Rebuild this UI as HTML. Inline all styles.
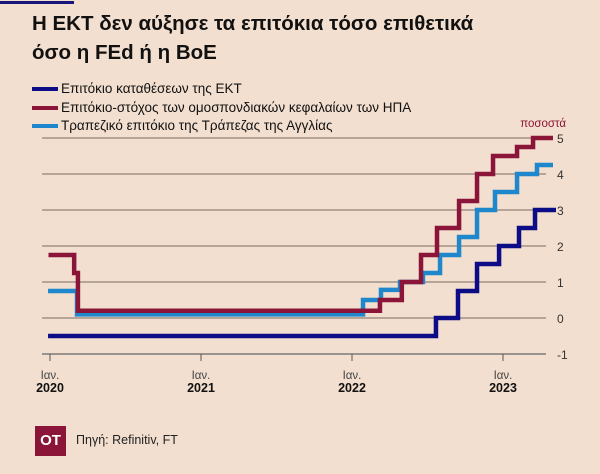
<!DOCTYPE html>
<html><head><meta charset="utf-8"><style>
body{margin:0;width:600px;height:474px;background:#f3dfcf;overflow:hidden;font-family:"Liberation Sans","DejaVu Sans",sans-serif;position:relative}
.t{position:absolute;left:32px;top:9px;font-size:20.5px;font-weight:bold;color:#111;line-height:29px}
.lg{position:absolute;left:32px;font-size:13.5px;color:#111;height:16px;line-height:16px}
.lg span{display:inline-block;width:26px;height:4px;vertical-align:middle;margin-right:3px}
</style></head><body>
<div style="position:absolute;left:0;top:1px;width:74px;height:3px;background:#16167a"></div>
<div class="t">Η ΕΚΤ δεν αύξησε τα επιτόκια τόσο επιθετικά<br>όσο η FEd ή η BoE</div>
<div class="lg" style="top:81px"><span style="background:#0c0c86"></span>Επιτόκιο καταθέσεων της ΕΚΤ</div>
<div class="lg" style="top:100px"><span style="background:#8b1538"></span>Επιτόκιο-στόχος των ομοσπονδιακών κεφαλαίων των ΗΠΑ</div>
<div class="lg" style="top:118px"><span style="background:#1f87cc"></span>Τραπεζικό επιτόκιο της Τράπεζας της Αγγλίας</div>
<svg id="c" width="600" height="474" style="position:absolute;left:0;top:0"></svg>
<div style="position:absolute;left:35px;top:426px;width:31px;height:30px;background:#8b1538;color:#fff;font-weight:bold;font-size:15px;line-height:30px;text-align:center">OT</div>
<div style="position:absolute;left:76px;top:433px;font-size:12.5px;color:#222">Πηγή: Refinitiv, FT</div>
<script>
const yTicks=[-1,0,1,2,3,4,5];
const xYears=[2020,2021,2022,2023];
const ecbT=[2019.987,2022.556,2022.702,2022.828,2022.974,2023.106,2023.212,2023.351];
const ecbV=[-0.5,0,0.75,1.5,2.0,2.5,3.0,3.0];
const fedT=[2019.99,2020.16,2020.185,2022.185,2022.33,2022.457,2022.563,2022.709,2022.828,2022.934,2023.093,2023.199,2023.331];
const fedV=[1.75,1.25,0.2,0.5,1.0,1.75,2.5,3.25,4.0,4.5,4.75,5.0,5.0];
const boeT=[2019.987,2020.179,2021.94,2022.073,2022.192,2022.318,2022.47,2022.583,2022.709,2022.828,2022.947,2023.093,2023.225,2023.331];
const boeV=[0.75,0.1,0.1,0.5,0.78,1.0,1.25,1.75,2.25,3.0,3.5,4.0,4.25,4.25];
const X=t=>50+151*(t-2020), Y=v=>318-36*v;
const svg=document.getElementById('c'),NS='http://www.w3.org/2000/svg';
function mk(tag,a,txt){const e=document.createElementNS(NS,tag);for(const k in a)e.setAttribute(k,a[k]);if(txt!=null)e.textContent=txt;svg.appendChild(e);return e;}
yTicks.forEach(v=>{
 const l=mk('line',{x1:42,x2:546,y1:Y(v),y2:Y(v),stroke:v==-1?'#666':'#7a6a60','stroke-width':v==-1?1.3:1});
 
 
 const t=mk('text',{x:557,y:Y(v)+5,'font-size':12,fill:'#333','text-anchor':'start'},String(v));
 
 
});
const pt=mk('text',{x:566,y:127,'font-size':11.5,fill:'#8b1538','text-anchor':'end'},'ποσοστά');


xYears.forEach(yr=>{
 const x=X(yr);
 const tk=mk('line',{x1:x,x2:x,y1:354,y2:361,stroke:'#555','stroke-width':1});
 
 
 const a=mk('text',{x:x,y:379,'font-size':11.5,fill:'#444','text-anchor':'middle'},'Ιαν.');
 
 
 const b=mk('text',{x:x,y:392,'font-size':12.5,'font-weight':'bold',fill:'#111','text-anchor':'middle'},String(yr));
 
 
});
function step(T,V,col,name){
 let d='M'+X(T[0])+','+Y(V[0]);
 for(let i=1;i<T.length;i++){d+=' H'+X(T[i])+' V'+Y(V[i]);}
 const p=mk('path',{d:d,fill:'none',stroke:col,'stroke-width':4.5,'stroke-linejoin':'miter'});
 
 
}
step(boeT,boeV,'#1f87cc','boe-line');
step(ecbT,ecbV,'#0c0c86','ecb-line');
step(fedT,fedV,'#8b1538','fed-line');
</script>
</body></html>
